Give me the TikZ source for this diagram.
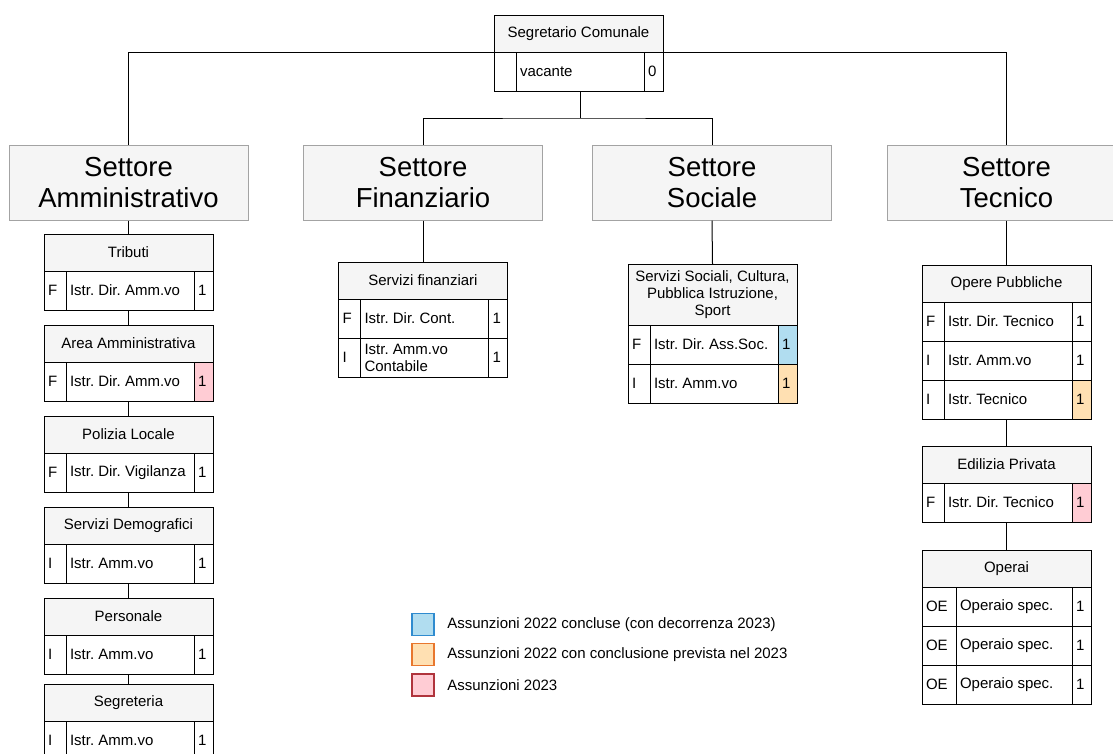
\documentclass[tikz,border=0pt]{standalone}
\usepackage{fontspec}
\setmainfont{Liberation Sans}
\frenchspacing
\usetikzlibrary{positioning,calc}
\definecolor{FondoGrigio}{HTML}{F5F5F5}
\definecolor{BordoGrigio}{HTML}{A3A3A3}
\definecolor{AzzurroFondo}{HTML}{B1DDF0}
\definecolor{AzzurroBordo}{HTML}{2F8BCF}
\definecolor{AranciaFondo}{HTML}{FFE0B2}
\definecolor{AranciaBordo}{HTML}{E8772E}
\definecolor{RosaFondo}{HTML}{FFCCD4}
\definecolor{RosaBordo}{HTML}{B0343C}
\tikzset{
	settore/.style={draw=BordoGrigio, fill=FondoGrigio, minimum width=239pt, minimum height=75pt, inner sep=0pt, align=center, font=\fontsize{27.5}{31.6}\selectfont},
	testata/.style={draw=black, fill=FondoGrigio, anchor=north west, minimum width=169pt, minimum height=37pt, inner sep=0pt, outer sep=0pt, align=center},
	cella/.style={draw=black, fill=white, anchor=north west, minimum height=39pt, inner xsep=4pt, inner ysep=0pt, outer sep=0pt, align=flush left},
	legenda/.style={minimum size=22pt, inner sep=0pt, line width=1.5pt},
	nota/.style={inner sep=0pt}
}
% larghezze del testo nelle tre colonne
\newcommand{\larA}{14pt}
\newcommand{\larB}{120pt}
\newcommand{\larC}{11pt}
% una riga: nome, angolo, cat., profilo, numero, colore
\newcommand{\riga}[6]{%
	\node[cella, text width=\larA] (#1a) at #2 {#3};
	\node[cella, text width=\larB] (#1b) at (#1a.north east) {#4};
	\node[cella, text width=\larC, #6] (#1c) at (#1b.north east) {#5};
}
\begin{document}
\begin{tikzpicture}[x=1pt, y=-1pt, line width=1pt, font=\fontsize{15}{17}\selectfont]
	\useasboundingbox (0,0) rectangle (1113,753);
	\clip (0,0) rectangle (1113,753);

	% segretario
	\node[testata] (segr) at (494,15) {Segretario Comunale};
	\riga{segr-1}{(segr.south west)}{}{vacante}{0}{}

	% settori
	\node[settore] (amm) at (128.5,182.5) {Settore\\Amministrativo};
	\node[settore] (fin) at (423,182.5) {Settore\\Finanziario};
	\node[settore] (soc) at (712,182.5) {Settore\\Sociale};
	\node[settore] (tec) at (1006.5,182.5) {Settore\\Tecnico};

	\coordinate (snodo) at ($(segr-1b.south)+(0,27)$);
	\draw (segr.south west) -| (amm.north);
	\draw (segr.south east) -| (tec.north);
	\draw (segr-1b.south) -- (snodo);
	\draw (fin.north) |- (snodo) -| (soc.north);

	% settore amministrativo
	\node[testata] (tri) at (44,234) {Tributi};
	\riga{tri-1}{(tri.south west)}{F}{Istr. Dir. Amm.vo}{1}{}
	\node[testata] (are) at (44,325) {Area Amministrativa};
	\riga{are-1}{(are.south west)}{F}{Istr. Dir. Amm.vo}{1}{fill=RosaFondo}
	\node[testata] (pol) at (44,416) {Polizia Locale};
	\riga{pol-1}{(pol.south west)}{F}{Istr. Dir. Vigilanza}{1}{}
	\node[testata] (dem) at (44,507) {Servizi Demografici};
	\riga{dem-1}{(dem.south west)}{I}{Istr. Amm.vo}{1}{}
	\node[testata] (per) at (44,598) {Personale};
	\riga{per-1}{(per.south west)}{I}{Istr. Amm.vo}{1}{}
	\node[testata] (seg) at (44,684) {Segreteria};
	\riga{seg-1}{(seg.south west)}{I}{Istr. Amm.vo}{1}{}

	\draw (amm.south) -- (tri.north);
	\draw (tri.south |- tri-1a.south) -- (are.north);
	\draw (are.south |- are-1a.south) -- (pol.north);
	\draw (pol.south |- pol-1a.south) -- (dem.north);
	\draw (dem.south |- dem-1a.south) -- (per.north);
	\draw (per.south |- per-1a.south) -- (seg.north);

	% settore finanziario
	\node[testata] (sfi) at (338.5,262) {Servizi finanziari};
	\riga{sfi-1}{(sfi.south west)}{F}{Istr. Dir. Cont.}{1}{}
	\riga{sfi-2}{(sfi-1a.south west)}{I}{Istr. Amm.vo\\Contabile}{1}{}
	\draw (fin.south) -- (sfi.north);

	% settore sociale
	\node[testata, minimum height=61pt] (sso) at (628,264) {Servizi Sociali, Cultura,\\Pubblica Istruzione,\\Sport};
	\riga{sso-1}{(sso.south west)}{F}{Istr. Dir. Ass.Soc.}{1}{fill=AzzurroFondo}
	\riga{sso-2}{(sso-1a.south west)}{I}{Istr. Amm.vo}{1}{fill=AranciaFondo}
	\draw (soc.south) -- (sso.north);

	% settore tecnico
	\node[testata] (ope) at (922,265) {Opere Pubbliche};
	\riga{ope-1}{(ope.south west)}{F}{Istr. Dir. Tecnico}{1}{}
	\riga{ope-2}{(ope-1a.south west)}{I}{Istr. Amm.vo}{1}{}
	\riga{ope-3}{(ope-2a.south west)}{I}{Istr. Tecnico}{1}{fill=AranciaFondo}
	\node[testata] (edi) at (922,446) {Edilizia Privata};
	\riga{edi-1}{(edi.south west)}{F}{Istr. Dir. Tecnico}{1}{fill=RosaFondo}
	\renewcommand{\larA}{26pt}
	\renewcommand{\larB}{108pt}
	\node[testata] (opr) at (922,550) {Operai};
	\riga{opr-1}{(opr.south west)}{OE}{Operaio spec.}{1}{}
	\riga{opr-2}{(opr-1a.south west)}{OE}{Operaio spec.}{1}{}
	\riga{opr-3}{(opr-2a.south west)}{OE}{Operaio spec.}{1}{}

	\draw (tec.south) -- (ope.north);
	\draw (ope.south |- ope-3a.south) -- (edi.north);
	\draw (edi.south |- edi-1a.south) -- (opr.north);

	% legenda
	\node[legenda, draw=AzzurroBordo, fill=AzzurroFondo] (leg1) at (423,624.5) {};
	\node[legenda, draw=AranciaBordo, fill=AranciaFondo] (leg2) at (423,654.5) {};
	\node[legenda, draw=RosaBordo, fill=RosaFondo] (leg3) at (423,685) {};
	\node[nota, right=12pt of leg1] (leg1-t) {Assunzioni 2022 concluse (con decorrenza 2023)};
	\node[nota, right=12pt of leg2] (leg2-t) {Assunzioni 2022 con conclusione prevista nel 2023};
	\node[nota, right=12pt of leg3] (leg3-t) {Assunzioni 2023};
\end{tikzpicture}
\end{document}
